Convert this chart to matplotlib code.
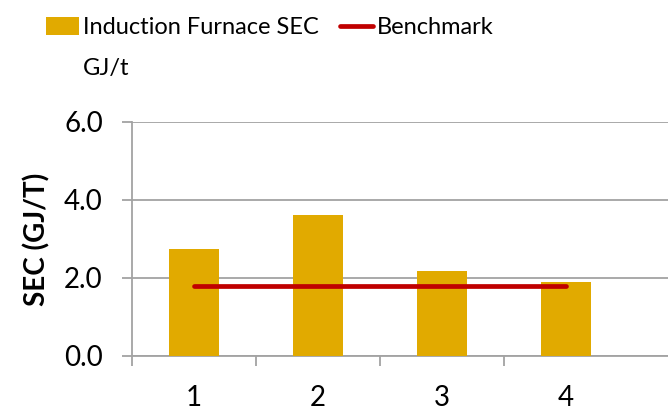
import matplotlib
matplotlib.use("Agg")
import matplotlib.pyplot as plt
from matplotlib.ticker import FixedLocator

categories = ["1", "2", "3", "4"]
sec_values = [2.75, 3.61, 2.19, 1.90]
benchmark_values = [1.80, 1.80, 1.80, 1.80]
y_ticks = [0.0, 2.0, 4.0, 6.0]
legend_bar_label = "Induction Furnace SEC"
legend_bar_unit = "GJ/t"
legend_line_label = "Benchmark"

plt.rcParams['font.family'] = ['Lato', 'DejaVu Sans']

W, H = 668, 413
fig = plt.figure(figsize=(W/100, H/100), dpi=100)
ax = fig.add_axes([132/W, 1-356/H, 1-132/W, (356-122)/H])

x = list(range(1, len(categories) + 1))
bars = ax.bar(x, sec_values, width=0.4, color="#E1AA00", zorder=3,
              label=legend_bar_label)
line, = ax.plot(x, benchmark_values, color="#C00000", lw=3.4,
                solid_capstyle="round", zorder=4, label=legend_line_label)

ax.set_xlim(0.5, 0.5 + (W-132)/124)
ax.set_ylim(0, 6)
ax.set_yticks(y_ticks)
ax.set_yticklabels([f"{v:.1f}" for v in y_ticks])
ax.set_xticks(x)
ax.set_xticklabels(categories)
ax.xaxis.set_minor_locator(FixedLocator([0.5, 1.5, 2.5, 3.5]))

grid_c = "#A3A3A3"
ax.yaxis.grid(True, color=grid_c, lw=1.3, zorder=0)
for s in ["top", "right"]:
    ax.spines[s].set_visible(False)
for s in ["left", "bottom"]:
    ax.spines[s].set_color(grid_c)
    ax.spines[s].set_linewidth(1.3)

ax.tick_params(axis="y", which="major", length=7, width=1.3, color=grid_c,
               labelsize=20, pad=14, labelcolor="black")
ax.tick_params(axis="x", which="major", length=0, labelsize=20, pad=21)
ax.tick_params(axis="x", which="minor", length=7, width=1.3, color=grid_c)

ax.set_ylabel("SEC (GJ/T)", fontsize=20, fontweight="bold", labelpad=10)

leg = fig.legend(handles=[bars, line], loc="upper left",
                 bbox_to_anchor=(46/W, 1-17/H), ncol=2, frameon=False,
                 fontsize=17, handlelength=1.4, handleheight=0.8,
                 handletextpad=0.17, columnspacing=0.9,
                 borderpad=0.0, borderaxespad=0.0)

fig.canvas.draw()
r = fig.canvas.get_renderer()
bb = leg.get_texts()[0].get_window_extent(r)
fig.text(bb.x0/W, (bb.y0 + 5 - 42)/H, legend_bar_unit, fontsize=17,
         ha="left", va="baseline")

fig.savefig("out.png", dpi=100)
